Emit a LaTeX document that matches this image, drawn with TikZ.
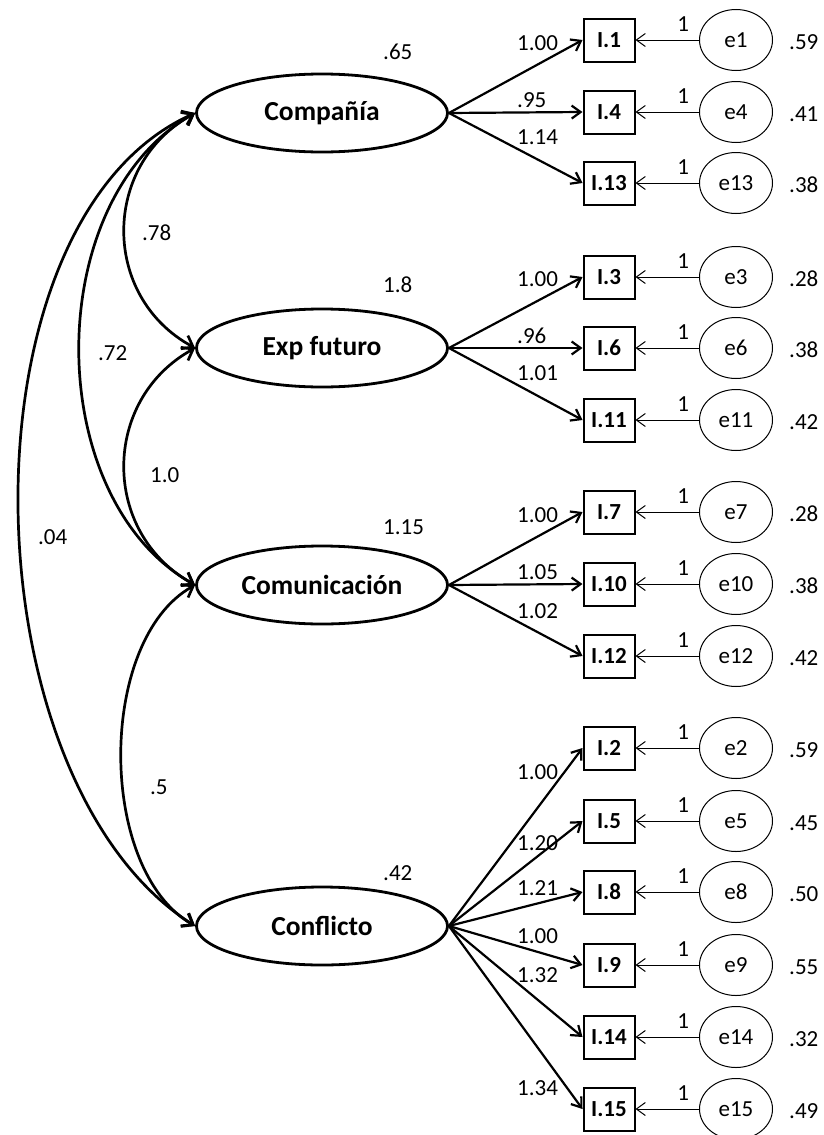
\documentclass[tikz,border=0pt]{standalone}
\usepackage{fontspec}
\setmainfont{Carlito}
\usetikzlibrary{arrows.meta,shapes.geometric}
\tikzset{
  latent/.style={ellipse,draw,line width=2.8pt,minimum width=251pt,minimum height=78pt,inner sep=0pt,font=\fontsize{27.5}{32}\selectfont\bfseries},
  indic/.style={rectangle,draw,line width=2pt,minimum width=51pt,minimum height=43pt,inner sep=0pt,font=\fontsize{23}{27}\selectfont\bfseries},
  errc/.style={ellipse,draw,line width=1pt,minimum width=73pt,minimum height=61pt,inner sep=0pt,font=\fontsize{23}{27}\selectfont},
  num/.style={inner sep=0pt,font=\fontsize{23}{27}\selectfont},
  load/.style={-{Straight Barb[length=9pt,width=13pt]},line width=2.2pt},
  errar/.style={-{Straight Barb[length=9pt,width=13pt]},line width=1pt},
  cov/.style={{Straight Barb[length=10pt,width=15pt]}-{Straight Barb[length=10pt,width=15pt]},line width=2.7pt},
}
\begin{document}
\begin{tikzpicture}[x=1pt,y=-1pt]
  \useasboundingbox (0,0) rectangle (824,1135);
  % latent factors
  \node[latent] (comp) at (322,113) {Compañía};
  \node[latent] (expf) at (322,348) {Exp futuro};
  \node[latent] (comu) at (322,585) {Comunicación};
  \node[latent] (conf) at (322,926) {Conflicto};
  \node[num,anchor=west] (vcomp) at (383,52) {.65};
  \node[num,anchor=west] (vexpf) at (383,285) {1.8};
  \node[num,anchor=west] (vcomu) at (383,527) {1.15};
  \node[num,anchor=west] (vconf) at (383,873) {.42};
  % covariances
  \draw[cov] (comp.west) .. controls (101,165) and (101,297) .. (expf.west);
  \draw[cov] (comp.west) .. controls (41,200) and (41,498) .. (comu.west);
  \draw[cov] (expf.west) .. controls (101,400) and (101,533) .. (comu.west);
  \draw[cov] (comp.west) .. controls (-45,220) and (-35,780) .. (conf.west);
  \draw[cov] (comu.west) .. controls (97,640) and (97,870) .. (conf.west);
  \node[num,anchor=west] (c12) at (142,233) {.78};
  \node[num,anchor=west] (c13) at (98,353) {.72};
  \node[num,anchor=west] (c23) at (150,475) {1.0};
  \node[num,anchor=west] (c14) at (38,537) {.04};
  \node[num,anchor=west] (c34) at (150,787) {.5};
  % items, errors and loadings
  \foreach \n/\yy/\ld/\ly/\ev/\lat in {
      1/40/1.00/43/.59/comp, 4/112/.95/100/.41/comp, 13/183/1.14/137/.38/comp,
      3/277/1.00/279/.28/expf, 6/348/.96/336/.38/expf, 11/420/1.01/373/.42/expf,
      7/512/1.00/515/.28/comu, 10/584/1.05/572/.38/comu, 12/656/1.02/611/.42/comu,
      2/748/1.00/772/.59/conf, 5/821/1.20/843/.45/conf, 8/892/1.21/888/.50/conf,
      9/965/1.00/936/.55/conf, 14/1037/1.32/975/.32/conf, 15/1109/1.34/1088/.49/conf}{
    \node[indic] (i\n) at (609,\yy) {I.\n};
    \node[errc] (e\n) at (736,\yy) {e\n};
    \node[num,anchor=west] (v\n) at (789,\yy+2) {\ev};
    \draw[load] (\lat.east) -- (i\n.west);
    \node[num,anchor=west] (l\n) at (517,\ly) {\ld};
    \draw[errar] (e\n.west) -- node[num,above=8pt,pos=.25] (f\n) {1} (i\n.east);
  }
\end{tikzpicture}
\end{document}
